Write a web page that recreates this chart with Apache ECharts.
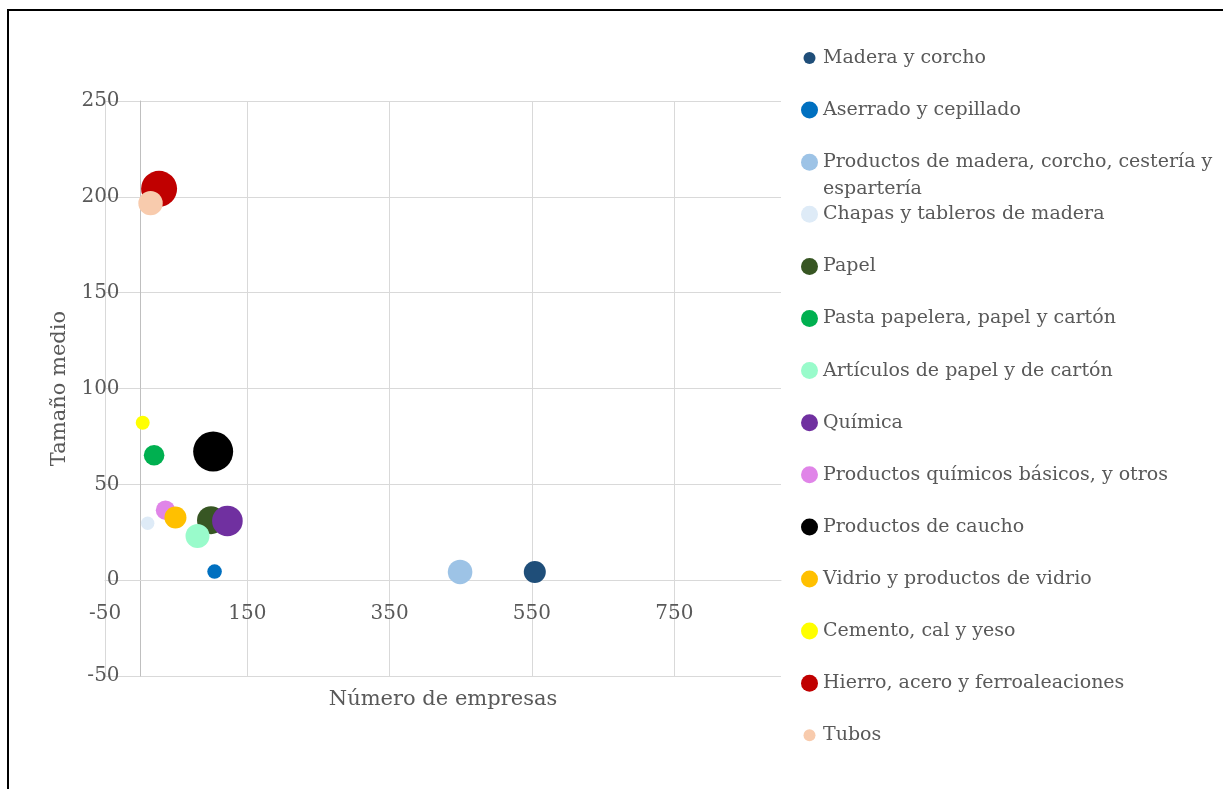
<!DOCTYPE html>
<html>
<head>
<meta charset="utf-8">
<script src="https://cdn.jsdelivr.net/npm/echarts@6/dist/echarts.min.js"></script>
<style>
  html, body { margin: 0; padding: 0; background: #ffffff; }
  #chart { position: absolute; left: 0; top: 0; width: 1223px; height: 789px; }
  #marco { position: absolute; left: 7px; top: 9px; width: 1240px; height: 800px;
           border: 2px solid #000000; pointer-events: none; }
</style>
</head>
<body>
<div id="chart"></div>
<div id="marco"></div>
<script>
// Sectores industriales: número de empresas frente a tamaño medio
const categorias = [
  'Madera y corcho',
  'Aserrado y cepillado',
  'Productos de madera, corcho, cestería y espartería',
  'Chapas y tableros de madera',
  'Papel',
  'Pasta papelera, papel y cartón',
  'Artículos de papel y de cartón',
  'Química',
  'Productos químicos básicos, y otros',
  'Productos de caucho',
  'Vidrio y productos de vidrio',
  'Cemento, cal y yeso',
  'Hierro, acero y ferroaleaciones',
  'Tubos'
];
const numeroEmpresas = [554, 104, 449, 10, 99, 19, 80, 122, 35, 102, 49, 3, 26, 14];
const tamanoMedio   = [4.3, 4.5, 4.3, 29.7, 31.3, 65.2, 23, 30.9, 36.5, 67.1, 32.7, 82.1, 204.2, 196.7];
const tamanoBurbuja = [1940, 850, 2420, 720, 3140, 1700, 2300, 3750, 1500, 6400, 1940, 780, 5180, 2380];
const colores = [
  '#1F4E79', '#0070C0', '#9DC3E6', '#DEEBF7', '#375623', '#00B050', '#99FBCB',
  '#7030A0', '#E085E8', '#000000', '#FFC000', '#FFFF00', '#C00000', '#F8CBAD'
];
const ejeX = { min: -50, max: 900, interval: 200 };
const ejeY = { min: -50, max: 250, interval: 50 };

const fuente = 'DejaVu Serif';
const gris = '#595959';
const nombreLargo = 'Productos de madera, corcho, cestería y espartería';
// smaller legend circle inside the same 17x17 box
const iconoPequeno = 'path://M0,0M17,17M14.5,8.5A6,6,0,1,1,2.5,8.5A6,6,0,1,1,14.5,8.5Z';

// plot box
const G = { left: 105, right: 442, top: 101, bottom: 113 };
const W = 1223, H = 789;
const anchoPlot = W - G.left - G.right;
const altoPlot = H - G.top - G.bottom;
// shift each axis from the plot edge to the zero crossing of the other axis
const desplX = -altoPlot * (0 - ejeY.min) / (ejeY.max - ejeY.min);
const desplY = -anchoPlot * (0 - ejeX.min) / (ejeX.max - ejeX.min);

const series = categorias.map((nombre, i) => ({
  name: nombre,
  type: 'scatter',
  data: [[numeroEmpresas[i], tamanoMedio[i], tamanoBurbuja[i]]],
  symbol: 'circle',
  symbolSize: v => Math.sqrt(v[2]) / 2,
  itemStyle: { color: colores[i], opacity: 1 },
  emphasis: { disabled: true }
}));

const textoLeyenda = {
  fontFamily: fuente, fontSize: 19, color: gris, lineHeight: 27,
  rich: {
    w: { fontFamily: fuente, fontSize: 19, color: gris, lineHeight: 0, padding: [27, 0, 0, 0] }
  }
};
const formatoLeyenda = nombre => nombre === nombreLargo
  ? 'Productos de madera, corcho, cestería y\n{w|espartería}'
  : nombre;
const itemLeyenda = (nombre, i) =>
  (i === 0 || i === categorias.length - 1) ? { name: nombre, icon: iconoPequeno } : { name: nombre };
const baseLeyenda = {
  orient: 'vertical', left: 801, padding: 0, itemGap: 25.1,
  itemWidth: 17, itemHeight: 17, icon: 'circle', selectedMode: false,
  textStyle: textoLeyenda, formatter: formatoLeyenda
};

const chart = echarts.init(document.getElementById('chart'), null, { renderer: 'canvas' });
chart.setOption({
  animation: false,
  backgroundColor: 'transparent',
  grid: { left: G.left, right: G.right, top: G.top, bottom: G.bottom, containLabel: false, outerBoundsMode: 'none' },
  xAxis: {
    type: 'value',
    position: 'bottom',
    offset: desplX,
    min: ejeX.min, max: ejeX.max, interval: ejeX.interval,
    name: 'Número de empresas',
    nameLocation: 'middle',
    nameGap: 109,
    nameTextStyle: { fontFamily: fuente, fontSize: 21, color: gris },
    axisLine: { onZero: false, lineStyle: { color: '#d9d9d9', width: 1 } },
    axisTick: { show: false },
    axisLabel: { fontFamily: fuente, fontSize: 20, color: gris, margin: 24, showMaxLabel: false, showMinLabel: true },
    splitLine: { show: true, showMinLine: true, showMaxLine: false, lineStyle: { color: '#d9d9d9', width: 1 } }
  },
  yAxis: {
    type: 'value',
    position: 'left',
    offset: desplY,
    min: ejeY.min, max: ejeY.max, interval: ejeY.interval,
    name: 'Tamaño medio',
    nameLocation: 'middle',
    nameGap: 60,
    nameTextStyle: { fontFamily: fuente, fontSize: 21, color: gris },
    axisLine: { onZero: false, lineStyle: { color: '#bfbfbf', width: 1 } },
    axisTick: { show: false },
    axisLabel: { fontFamily: fuente, fontSize: 20, color: gris, margin: 21, padding: [5, 0, 0, 0] },
    splitLine: { show: true, lineStyle: { color: '#d9d9d9', width: 1 } }
  },
  legend: [
    Object.assign({}, baseLeyenda, {
      top: 44.5,
      data: categorias.slice(0, 3).map((n, i) => itemLeyenda(n, i))
    }),
    Object.assign({}, baseLeyenda, {
      top: 44.5 + 3 * 52.1,
      data: categorias.slice(3).map((n, i) => itemLeyenda(n, i + 3))
    })
  ],
  series: series
});
</script>
</body>
</html>
